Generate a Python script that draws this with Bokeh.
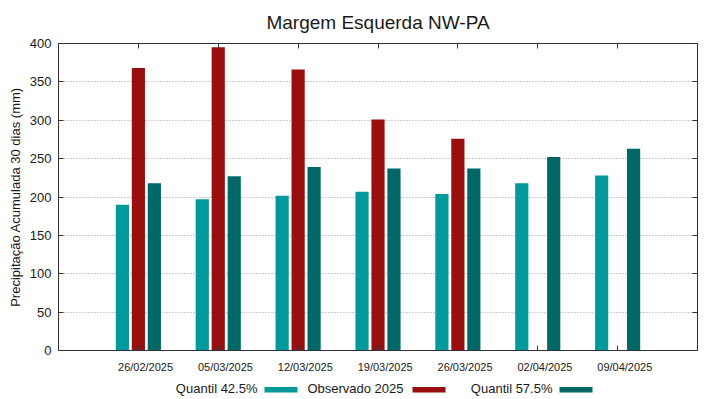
from bokeh.plotting import figure
from bokeh.models import Range1d, FixedTicker, LinearAxis, ColumnDataSource
from bokeh.layouts import column
from bokeh.transform import dodge
from bokeh.core.properties import value
from bokeh.embed import file_html
from bokeh.resources import INLINE

# ---- data ----
dates = ["26/02/2025", "05/03/2025", "12/03/2025", "19/03/2025",
         "26/03/2025", "02/04/2025", "09/04/2025"]
q425 = [190, 197, 201.5, 207, 204, 218, 228]
obs = [368, 395, 366, 301, 276, None, None]
q575 = [218, 227, 239, 237, 237, 252, 263]
series_names = ["Quantil 42.5%", "Observado 2025", "Quantil 57.5%"]
title_text = "Margem Esquerda NW-PA"
colors = ["#009a9a", "#990e0e", "#006767"]
y_ticks = list(range(0, 401, 50))

FONT = "Liberation Sans"
TXT = "#1a1a1a"
AX = "#333333"
xs = list(range(1, len(dates) + 1))

TOTAL_W = 719
TITLE_H, MAIN_H, LEG_H = 36, 340, 23
BL, BR = 58, 22                 # left / right borders shared by all strips
FX0, FX1 = BL, TOTAL_W - BR     # frame extent in page pixels


def strip(h, y0):
    f = figure(width=TOTAL_W, height=h, output_backend="svg", toolbar_location=None,
               x_range=Range1d(FX0, FX1), y_range=Range1d(y0 + h, y0),
               min_border_left=BL, min_border_right=BR, min_border_top=0,
               min_border_bottom=0, x_axis_location=None, y_axis_location=None)
    f.outline_line_color = None
    f.xgrid.visible = False
    f.ygrid.visible = False
    return f


# ---- title strip ----
tt = strip(TITLE_H, 0)
tt.text(x=[(FX0 + FX1) / 2], y=[22], text=[title_text], text_font=value(FONT),
        text_font_size="19px", text_color=TXT, text_align="center",
        text_baseline="alphabetic")

# ---- main chart ----
p = figure(width=TOTAL_W, height=MAIN_H, output_backend="svg", toolbar_location=None,
           x_range=Range1d(0, len(dates) + 1), y_range=Range1d(0, 400),
           x_axis_location=None, y_axis_location=None,
           min_border_left=BL, min_border_right=BR, min_border_top=43 - TITLE_H,
           min_border_bottom=26)
p.outline_line_color = AX
p.outline_line_width = 1

src = ColumnDataSource(dict(x=xs, q425=q425, q575=q575))
obs_x = [x for x, v in zip(xs, obs) if v is not None]
obs_v = [v for v in obs if v is not None]
src_obs = ColumnDataSource(dict(x=obs_x, obs=obs_v))

W = 0.165
p.vbar(x=dodge("x", -0.2, range=p.x_range), top="q425", width=W, source=src,
       fill_color=colors[0], line_color=None)
p.vbar(x=dodge("x", 0.0, range=p.x_range), top="obs", width=W, source=src_obs,
       fill_color=colors[1], line_color=None)
p.vbar(x=dodge("x", 0.2, range=p.x_range), top="q575", width=W, source=src,
       fill_color=colors[2], line_color=None)


def tick_only_axis(ticks):
    ax = LinearAxis(ticker=FixedTicker(ticks=ticks))
    ax.major_tick_in = 5
    ax.major_tick_out = 0
    ax.minor_tick_line_color = None
    ax.axis_line_color = AX
    ax.major_tick_line_color = AX
    ax.major_label_text_font_size = "0px"
    ax.major_label_text_color = None
    ax.major_label_text_alpha = 0
    ax.major_label_standoff = 0
    return ax


yl = LinearAxis(ticker=FixedTicker(ticks=y_ticks),
                axis_label="Precipitação Acumulada 30 dias (mm)")
yl.major_tick_in = 5
yl.major_tick_out = 0
yl.minor_tick_line_color = None
yl.axis_line_color = AX
yl.major_tick_line_color = AX
yl.major_label_text_font = FONT
yl.major_label_text_font_size = "13px"
yl.major_label_text_color = TXT
yl.major_label_standoff = 7
yl.axis_label_text_font = FONT
yl.axis_label_text_font_size = "13px"
yl.axis_label_text_font_style = "normal"
yl.axis_label_text_color = TXT
yl.axis_label_standoff = 4
p.add_layout(yl, "left")

p.add_layout(tick_only_axis(y_ticks), "right")
p.add_layout(tick_only_axis(xs), "above")
p.add_layout(tick_only_axis(xs), "below")

lab_offset = 0.09
lab_ticks = [x + lab_offset for x in xs]
xlab = LinearAxis(ticker=FixedTicker(ticks=lab_ticks))
xlab.major_label_overrides = {t: d for t, d in zip(lab_ticks, dates)}
xlab.major_tick_in = 0
xlab.major_tick_out = 0
xlab.minor_tick_line_color = None
xlab.axis_line_color = None
xlab.major_tick_line_color = None
xlab.major_label_text_font = FONT
xlab.major_label_text_font_size = "11px"
xlab.major_label_text_color = TXT
xlab.major_label_standoff = 10
p.add_layout(xlab, "below")

p.xgrid.visible = False
p.ygrid.ticker = FixedTicker(ticks=y_ticks[1:-1])
p.ygrid.grid_line_color = "#9a9a9a"
p.ygrid.grid_line_dash = "1 2"
p.ygrid.grid_line_width = 1

# ---- legend strip (label followed by colour sample), page-pixel coordinates ----
leg = strip(LEG_H, TITLE_H + MAIN_H)
leg_text_right = [257, 403, 552]
leg_box_left = [264, 412, 559]
leg_box_w = 33
leg_y = 388
leg.text(x=leg_text_right, y=[leg_y] * 3, text=series_names,
         text_font=value(FONT), text_font_size="13px", text_color=TXT,
         text_align="right", text_baseline="middle")
leg.quad(left=leg_box_left, right=[b + leg_box_w for b in leg_box_left],
         top=[leg_y - 1.5] * 3, bottom=[leg_y + 4] * 3,
         fill_color=colors, line_color=None)

layout = column(tt, p, leg, spacing=0)
open("out.html", "w").write(file_html(layout, INLINE))
